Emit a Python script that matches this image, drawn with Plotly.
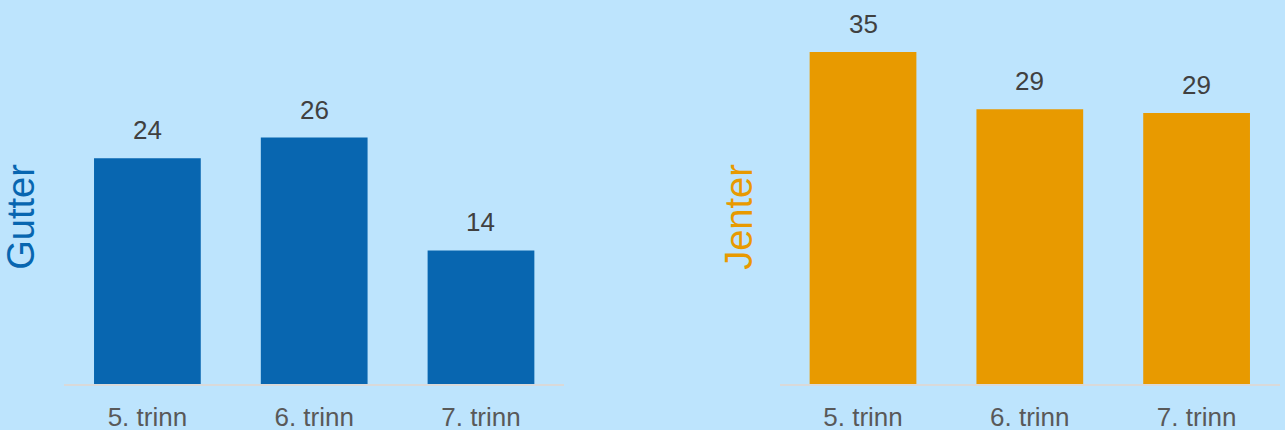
import plotly.graph_objects as go
from plotly.subplots import make_subplots

grades = ["5. trinn", "6. trinn", "7. trinn"]
boys = [24.0, 26.2, 14.2]
girls = [35.3, 29.2, 28.8]

BLUE = "#0866b0"
ORANGE = "#e89a00"
BG = "#bde4fd"
FONT = "Liberation Sans, Arial, sans-serif"

fig = make_subplots(rows=1, cols=2, horizontal_spacing=0.177)

fig.add_trace(go.Bar(x=grades, y=boys, marker_color=BLUE, name="Gutter"), row=1, col=1)
fig.add_trace(go.Bar(x=grades, y=girls, marker_color=ORANGE, name="Jenter"), row=1, col=2)

# value labels above the bars
for xref, yref, vals in [("x", "y", boys), ("x2", "y2", girls)]:
    for g, v in zip(grades, vals):
        fig.add_annotation(x=g, y=v, xref=xref, yref=yref, text=f"{v:.0f}",
                           showarrow=False, yanchor="bottom", yshift=11,
                           font=dict(size=26, color="#404040", family=FONT))

fig.update_traces(marker_line_width=0, showlegend=False)
fig.update_layout(bargap=0.36)

fig.update_xaxes(showline=True, linecolor="#d9d9d9", linewidth=2, showgrid=False,
                 ticks="", ticklabelstandoff=9, automargin=False,
                 tickfont=dict(size=26, color="#595959", family=FONT))
fig.update_yaxes(range=[0, 35.5], showticklabels=False, showgrid=False,
                 zeroline=False, showline=False, automargin=False)
fig.update_yaxes(title=dict(text="Gutter", standoff=19,
                            font=dict(size=38, color=BLUE, family=FONT)), row=1, col=1)
fig.update_yaxes(title=dict(text="Jenter", standoff=14,
                            font=dict(size=38, color=ORANGE, family=FONT)), row=1, col=2)

fig.update_layout(
    width=1285, height=430,
    margin=dict(l=64, r=5, t=50, b=46),
    paper_bgcolor=BG, plot_bgcolor=BG,
    font=dict(family=FONT),
)

fig.write_html("out.html", config={"displayModeBar": False},
               post_script="document.body.style.margin='0';")
